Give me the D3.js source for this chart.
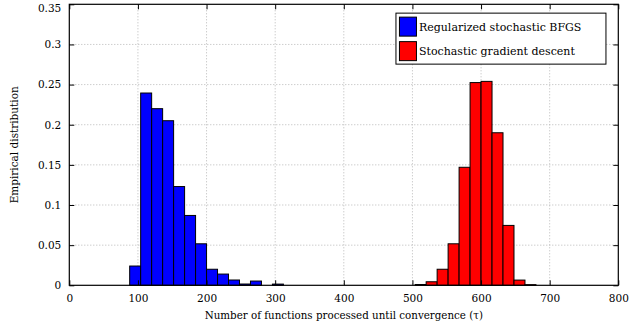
<!DOCTYPE html>
<html>
<head>
<meta charset="utf-8">
<script src="https://cdn.jsdelivr.net/npm/d3@7/dist/d3.min.js"></script>
<style>
  body { margin: 0; background: #fff; }
  text { font-family: "DejaVu Serif", serif; fill: #000; }
</style>
</head>
<body>
<div id="chart"></div>
<script>
// histogram data (bin left edges, width 16)
const binWidth = 16;
const blueBins = [88, 104, 120, 136, 152, 168, 184, 200, 216, 232, 248, 264, 280, 296];
const blueValues = [0.024, 0.2395, 0.220, 0.205, 0.123, 0.087, 0.0517, 0.020, 0.014, 0.0066, 0.0016, 0.0053, 0, 0.0015];
const redBins = [504, 520, 536, 552, 568, 584, 600, 616, 632, 648, 664];
const redValues = [0.001, 0.0044, 0.020, 0.0517, 0.147, 0.2525, 0.254, 0.190, 0.0746, 0.0065, 0.0008];

const xTicks = [0, 100, 200, 300, 400, 500, 600, 700, 800];
const yTicks = [0, 0.05, 0.1, 0.15, 0.2, 0.25, 0.3, 0.35];
const yTickLabels = ["0", "0.05", "0.1", "0.15", "0.2", "0.25", "0.3", "0.35"];
const seriesNames = ["Regularized stochastic BFGS", "Stochastic gradient descent"];
const seriesColors = ["#0000ff", "#ff0000"];

const margin = { top: 4.3, right: 22.7, bottom: 40.7, left: 69.3 };
const W = 641, H = 326;
const width = W - margin.left - margin.right;
const height = H - margin.top - margin.bottom;

const svg = d3.select("#chart")
    .append("svg")
    .attr("width", W)
    .attr("height", H)
    .append("g")
    .attr("transform", `translate(${margin.left},${margin.top})`);

const x = d3.scaleLinear().domain([0, 800]).range([0, width]);
const y = d3.scaleLinear().domain([0, 0.35]).range([height, 0]);

// grid
svg.selectAll(".vgrid")
    .data(xTicks.slice(1, -1))
    .enter().append("line")
    .attr("x1", d => x(d)).attr("x2", d => x(d))
    .attr("y1", 0).attr("y2", height)
    .attr("stroke", "#b8b8b8")
    .attr("stroke-dasharray", "1,2");

svg.selectAll(".hgrid")
    .data(yTicks.slice(1, -1))
    .enter().append("line")
    .attr("x1", 0).attr("x2", width)
    .attr("y1", d => y(d)).attr("y2", d => y(d))
    .attr("stroke", "#b8b8b8")
    .attr("stroke-dasharray", "1,2");

// bars
function drawBars(bins, values, color) {
    const data = bins.map((b, i) => ({ b, v: values[i] })).filter(d => d.v > 0);
    svg.append("g").selectAll("rect")
        .data(data)
        .enter().append("rect")
        .attr("x", d => x(d.b))
        .attr("width", x(binWidth) - x(0))
        .attr("y", d => y(d.v))
        .attr("height", d => y(0) - y(d.v))
        .attr("fill", color)
        .attr("stroke", "#000")
        .attr("stroke-width", 1);
}
drawBars(blueBins, blueValues, seriesColors[0]);
drawBars(redBins, redValues, seriesColors[1]);

// axes, ticks inward on all four sides
const tickLen = 5;
svg.append("g")
    .attr("transform", `translate(0,${height})`)
    .call(d3.axisBottom(x).tickValues(xTicks).tickSize(-tickLen).tickPadding(9).tickFormat(d3.format("d")))
    .call(g => g.select(".domain").remove())
    .call(g => g.selectAll("text").style("font-size", "10.5px").attr("font-family", null));

svg.append("g")
    .call(d3.axisTop(x).tickValues(xTicks).tickSize(-tickLen).tickFormat(""))
    .call(g => g.select(".domain").remove());

svg.append("g")
    .call(d3.axisLeft(y).tickValues(yTicks).tickSize(-tickLen).tickPadding(8)
        .tickFormat((d, i) => yTickLabels[i]))
    .call(g => g.select(".domain").remove())
    .call(g => g.selectAll("text").style("font-size", "10.5px").attr("font-family", null))
    // keep the top label inside the window
    .call(g => g.selectAll("text").filter(d => d === 0.35).attr("dy", "0.72em"));

svg.append("g")
    .attr("transform", `translate(${width},0)`)
    .call(d3.axisRight(y).tickValues(yTicks).tickSize(-tickLen).tickFormat(""))
    .call(g => g.select(".domain").remove());

svg.selectAll(".tick line").attr("stroke", "#000");

svg.append("rect")
    .attr("width", width).attr("height", height)
    .attr("fill", "none")
    .attr("stroke", "#000")
    .attr("stroke-width", 1.2);

// axis labels
svg.append("text")
    .attr("x", width / 2)
    .attr("y", height + 34)
    .attr("text-anchor", "middle")
    .style("font-size", "10.3px")
    .text("Number of functions processed until convergence (τ)");

svg.append("text")
    .attr("transform", "rotate(-90)")
    .attr("x", -height / 2)
    .attr("y", -51)
    .attr("text-anchor", "middle")
    .style("font-size", "10.5px")
    .text("Empirical distribution");

// legend
const legend = svg.append("g").attr("transform", `translate(${x(476)},${y(0.339)})`);
legend.append("rect")
    .attr("width", 210).attr("height", 51)
    .attr("fill", "#fff")
    .attr("stroke", "#000");
seriesNames.forEach((name, i) => {
    legend.append("rect")
        .attr("x", 3.5).attr("y", 4 + i * 24.5)
        .attr("width", 17).attr("height", 19)
        .attr("fill", seriesColors[i])
        .attr("stroke", "#000");
    legend.append("text")
        .attr("x", 23).attr("y", 17.5 + i * 24.5)
        .style("font-size", "11px")
        .text(name);
});
</script>
</body>
</html>
